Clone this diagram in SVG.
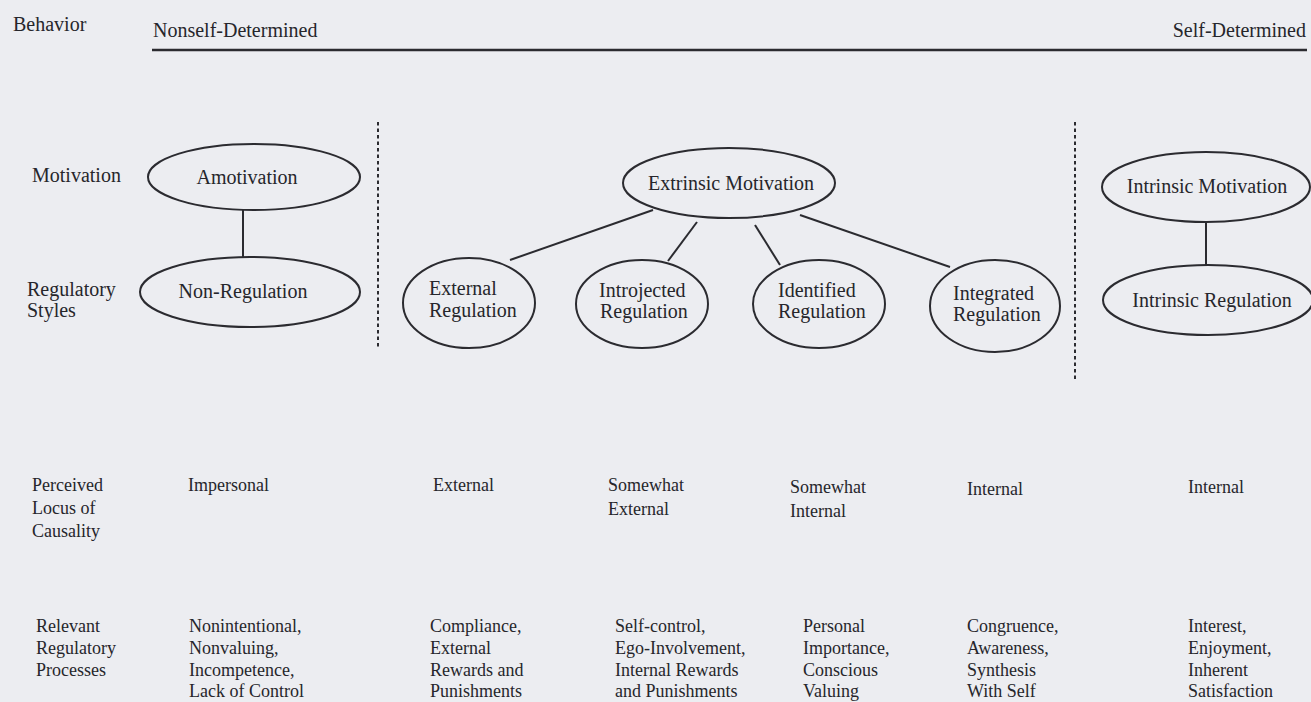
<svg xmlns="http://www.w3.org/2000/svg" width="1311" height="702" viewBox="0 0 1311 702">
<style>
  .t { font-family: "Liberation Serif", "Times New Roman", serif; font-size: 20px; fill: #26262b; }
  .s { font-size: 18px; }
  .m { text-anchor: middle; }
  .e { text-anchor: end; }
  ellipse { fill: none; stroke: #2b2b30; stroke-width: 2; }
  .c line { stroke: #2b2b30; stroke-width: 2; }
  .dot { stroke: #2b2b30; stroke-width: 2; stroke-dasharray: 3.5 3; }
  .rule { stroke: #2b2b30; stroke-width: 2.5; }
</style>
<rect width="1311" height="702" fill="#ecedf1"/>

<g id="header">
  <text class="t" x="13" y="31">Behavior</text>
  <text class="t" x="153" y="37">Nonself-Determined</text>
  <text class="t e" x="1306" y="37">Self-Determined</text>
  <line class="rule" x1="152" y1="50" x2="1307" y2="50"/>
</g>

<g id="dividers">
  <line class="dot" x1="378" y1="122" x2="378" y2="348"/>
  <line class="dot" x1="1075" y1="122" x2="1075" y2="382"/>
</g>

<g id="row-labels">
  <text class="t" x="32" y="182">Motivation</text>
  <text class="t" x="27" y="296">Regulatory<tspan x="27" y="317">Styles</tspan></text>
</g>

<g class="c" id="connectors">
  <line x1="243" y1="210" x2="243" y2="257"/>
  <line x1="653" y1="210" x2="510" y2="260"/>
  <line x1="697" y1="222" x2="668" y2="261"/>
  <line x1="755" y1="225" x2="780" y2="265"/>
  <line x1="800" y1="215" x2="950" y2="267"/>
  <line x1="1206" y1="222" x2="1206" y2="265"/>
</g>

<g id="amotivation">
  <ellipse cx="254" cy="177" rx="106" ry="33"/>
  <text class="t m" x="247" y="184">Amotivation</text>
</g>
<g id="non-regulation">
  <ellipse cx="250" cy="292" rx="110" ry="35"/>
  <text class="t m" x="243" y="298">Non-Regulation</text>
</g>
<g id="extrinsic-motivation">
  <ellipse cx="729" cy="183" rx="106" ry="35"/>
  <text class="t m" x="731" y="190">Extrinsic Motivation</text>
</g>
<g id="external-regulation">
  <ellipse cx="469" cy="303" rx="66" ry="45"/>
  <text class="t" x="429" y="295">External<tspan x="429" y="317">Regulation</tspan></text>
</g>
<g id="introjected-regulation">
  <ellipse cx="642" cy="304" rx="66" ry="44"/>
  <text class="t" x="599" y="297">Introjected<tspan x="600" y="318">Regulation</tspan></text>
</g>
<g id="identified-regulation">
  <ellipse cx="819" cy="304" rx="66" ry="44"/>
  <text class="t" x="778" y="297">Identified<tspan x="778" y="318">Regulation</tspan></text>
</g>
<g id="integrated-regulation">
  <ellipse cx="995" cy="306" rx="65" ry="46"/>
  <text class="t" x="953" y="300">Integrated<tspan x="953" y="321">Regulation</tspan></text>
</g>
<g id="intrinsic-motivation">
  <ellipse cx="1206" cy="187" rx="104" ry="35"/>
  <text class="t m" x="1207" y="193">Intrinsic Motivation</text>
</g>
<g id="intrinsic-regulation">
  <ellipse cx="1208" cy="300" rx="105" ry="35"/>
  <text class="t m" x="1212" y="307">Intrinsic Regulation</text>
</g>

<g id="locus-row">
  <text class="t s" x="32" y="491">Perceived<tspan x="32" y="514">Locus of</tspan><tspan x="32" y="537">Causality</tspan></text>
  <text class="t s" x="188" y="491">Impersonal</text>
  <text class="t s" x="433" y="491">External</text>
  <text class="t s" x="608" y="491">Somewhat<tspan x="608" y="515">External</tspan></text>
  <text class="t s" x="790" y="493">Somewhat<tspan x="790" y="517">Internal</tspan></text>
  <text class="t s" x="967" y="495">Internal</text>
  <text class="t s" x="1188" y="493">Internal</text>
</g>

<g id="processes-row">
  <text class="t s" x="36" y="632">Relevant<tspan x="36" y="654">Regulatory</tspan><tspan x="36" y="676">Processes</tspan></text>
  <text class="t s" x="189" y="632">Nonintentional,<tspan x="189" y="654">Nonvaluing,</tspan><tspan x="189" y="676">Incompetence,</tspan><tspan x="189" y="697">Lack of Control</tspan></text>
  <text class="t s" x="430" y="632">Compliance,<tspan x="430" y="654">External</tspan><tspan x="430" y="676">Rewards and</tspan><tspan x="430" y="697">Punishments</tspan></text>
  <text class="t s" x="615" y="632">Self-control,<tspan x="615" y="654">Ego-Involvement,</tspan><tspan x="615" y="676">Internal Rewards</tspan><tspan x="615" y="697">and Punishments</tspan></text>
  <text class="t s" x="803" y="632">Personal<tspan x="803" y="654">Importance,</tspan><tspan x="803" y="676">Conscious</tspan><tspan x="803" y="697">Valuing</tspan></text>
  <text class="t s" x="967" y="632">Congruence,<tspan x="967" y="654">Awareness,</tspan><tspan x="967" y="676">Synthesis</tspan><tspan x="967" y="697">With Self</tspan></text>
  <text class="t s" x="1188" y="632">Interest,<tspan x="1188" y="654">Enjoyment,</tspan><tspan x="1188" y="676">Inherent</tspan><tspan x="1188" y="697">Satisfaction</tspan></text>
</g>
</svg>
